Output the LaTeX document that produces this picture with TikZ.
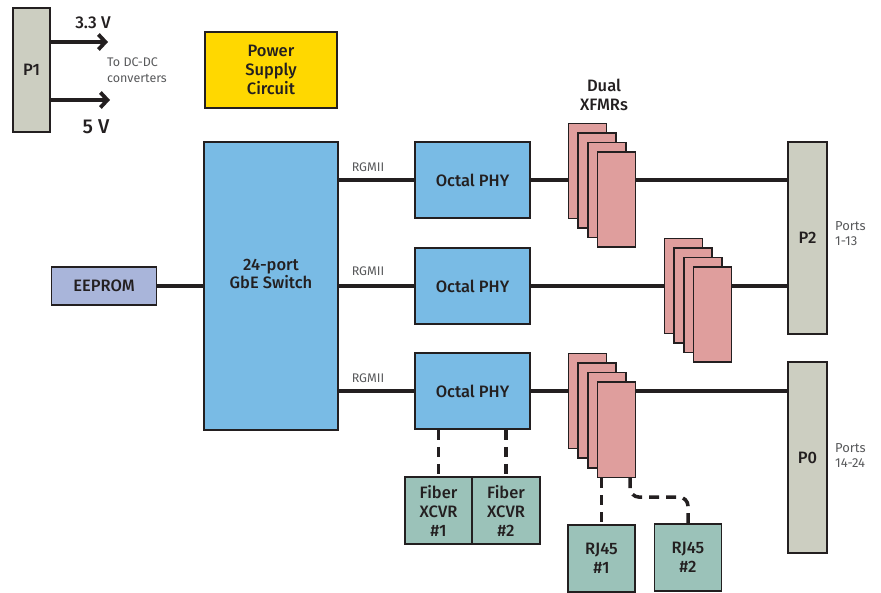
\documentclass[tikz,border=0pt]{standalone}
\usepackage{fontspec}
\setmainfont{Fira Sans}[BoldFont={Fira Sans Medium}]
\usetikzlibrary{arrows.meta,calc}
\definecolor{bord}{HTML}{231F20}
\definecolor{txt}{HTML}{231F20}
\definecolor{gtxt}{HTML}{58595B}
\definecolor{grayc}{HTML}{CCCEC1}
\definecolor{yellowc}{HTML}{FFD800}
\definecolor{bluec}{HTML}{79BBE5}
\definecolor{lavc}{HTML}{A9B5DA}
\definecolor{pinkc}{HTML}{DF9E9D}
\definecolor{tealc}{HTML}{9BC2B9}
\tikzset{
 box/.style={draw=bord, line width=1.6pt, text=txt, align=center, inner sep=0pt,
   font=\bfseries\fontsize{16.5}{19}\selectfont},
 wire/.style={draw=bord, line width=3.8pt},
 dwire/.style={draw=bord, line width=3.5pt, dash pattern=on 10pt off 7pt},
 small/.style={text=gtxt, font=\fontsize{12.5}{16}\selectfont, align=left, inner sep=0pt},
 lbl/.style={text=txt, font=\bfseries\fontsize{16.5}{18.5}\selectfont, align=center, inner sep=0pt},
 xfmr/.style={draw=bord, line width=1.6pt, fill=pinkc, minimum width=38pt, minimum height=95pt, inner sep=0pt},
 phy/.style={box, fill=bluec, minimum width=115pt, minimum height=76pt},
 port/.style={box, fill=grayc, minimum width=39pt},
 xcvr/.style={box, fill=tealc, minimum width=67pt, minimum height=67pt},
}
\begin{document}
\begin{tikzpicture}[x=1pt,y=-1pt]
\useasboundingbox (0,0) rectangle (881,593);
% power section
\node[box, fill=grayc, minimum width=37pt, minimum height=124pt] (p1) at (31.5,70) {P1};
\node[box, fill=yellowc, minimum width=132pt, minimum height=76pt] (psu) at (271,70) {Power\\Supply\\Circuit};
\coordinate (a1) at (108,42);
\coordinate (a2) at (110,100);
\draw[wire, -{Straight Barb[length=7pt,width=15pt]}] (p1.east |- a1) -- (a1);
\draw[wire, -{Straight Barb[length=7pt,width=15pt]}] (p1.east |- a2) -- (a2);
\node[lbl, font=\bfseries\fontsize{17}{20}\selectfont] (v33) at (93,23) {3.3 V};
\node[lbl, font=\bfseries\fontsize{20}{22}\selectfont] (v5) at (96,127) {5 V};
\node[small, anchor=west] (dcdc) at (107,70) {To DC-DC\\converters};
% switch
\node[box, fill=bluec, minimum width=134pt, minimum height=288pt] (sw) at (271,286) {};
\node[lbl] (swl) at ($(sw.center)+(0,-12)$) {24-port\\GbE Switch};
\node[box, fill=lavc, minimum width=105pt, minimum height=38pt] (eep) at (104,286) {EEPROM};
\draw[wire] (eep.east) -- (eep.east -| sw.west);
% PHYs
\node[phy] (phy1) at (472.5,180) {Octal PHY};
\node[phy] (phy2) at (472.5,286) {Octal PHY};
\node[phy] (phy3) at (472.5,391) {Octal PHY};
\draw[wire] (phy1.west -| sw.east) -- (phy1.west);
\draw[wire] (phy2.west -| sw.east) -- (phy2.west);
\draw[wire] (phy3.west -| sw.east) -- (phy3.west);
\node[small] (rg1) at (368,167) {RGMII};
\node[small] (rg2) at (368,271) {RGMII};
\node[small] (rg3) at (368,378) {RGMII};
% connectors P2 / P0
\node[port, minimum height=192pt] (p2) at (807.5,238) {P2};
\node[port, minimum height=191pt] (p0) at (807.5,457.5) {P0};
\node[small, anchor=west, font=\fontsize{13}{15}\selectfont] (pt1) at (835,233.5) {Ports\\1-13};
\node[small, anchor=west, font=\fontsize{13}{15}\selectfont] (pt2) at (835,455.5) {Ports\\14-24};
\draw[wire] (phy1.east) -- (phy1.east -| p2.west);
\draw[wire] (phy2.east) -- (phy2.east -| p2.west);
\draw[wire] (phy3.east) -- (phy3.east -| p0.west);
% transformers
\node[lbl] (dual) at (604,95) {Dual\\XFMRs};
\foreach \n/\k in {a/0,b/1,c/2,d/3}{
  \node[xfmr] (x1\n) at (587.5+9.6*\k,171+9.6*\k) {};
  \node[xfmr] (x2\n) at (683.5+9.6*\k,286+9.6*\k) {};
  \node[xfmr] (x3\n) at (587.5+9.6*\k,401+9.6*\k) {};
}
% fiber transceivers
\node[xcvr] (fib1) at (438.5,510.5) {Fiber\\XCVR\\\#1};
\node[xcvr, minimum width=68pt] (fib2) at (506,510.5) {Fiber\\XCVR\\\#2};
\draw[dwire] (fib1.north |- phy3.south) -- (fib1.north);
\draw[dwire] (fib2.north |- phy3.south) -- (fib2.north);
% RJ45
\node[xcvr] (rj1) at (601.5,558.5) {RJ45\\\#1};
\node[xcvr] (rj2) at (688,557.5) {RJ45\\\#2};
\draw[dwire] (x3d.south -| rj1.north) -- (rj1.north);
\coordinate (t2) at ($(x3d.south east)+(-6,0)$);
\draw[dwire, rounded corners=9pt] (t2) -- ++(0,19) -| (rj2.north);
\end{tikzpicture}
\end{document}
